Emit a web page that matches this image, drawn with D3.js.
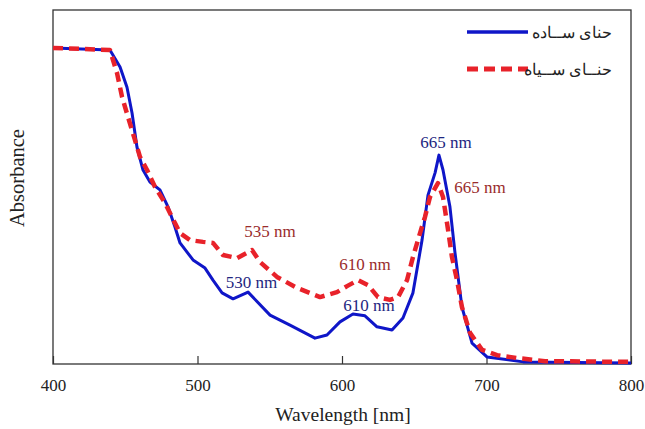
<!DOCTYPE html>
<html>
<head>
<meta charset="utf-8">
<script src="https://cdn.jsdelivr.net/npm/d3@7"></script>
<style>
  body { margin: 0; background: #fff; }
  svg text { font-family: "Liberation Serif", "Times New Roman", serif; }
</style>
</head>
<body>
<svg id="chart" width="645" height="429"></svg>
<script>
// wavelength (nm) and absorbance (arbitrary units)
const plainWave = [400, 439.4, 446.4, 451.2, 454.7, 458.1, 462.3, 467.1, 474, 479.6, 484.4, 487.9, 496.9, 505.2, 510.7, 517, 524.6, 535, 550.2, 564, 581.3, 589.6, 598.6, 607.6, 615.9, 624.2, 634.6, 642.2, 649.1, 655.4, 659.5, 664.4, 667.1, 669.9, 674.7, 678.2, 683, 690, 700.3, 725.3, 800]
const plainAbs = [0.893, 0.887, 0.839, 0.782, 0.709, 0.613, 0.548, 0.514, 0.492, 0.444, 0.387, 0.342, 0.294, 0.271, 0.237, 0.201, 0.184, 0.203, 0.138, 0.110, 0.073, 0.082, 0.119, 0.141, 0.136, 0.105, 0.096, 0.130, 0.201, 0.350, 0.477, 0.540, 0.590, 0.548, 0.444, 0.314, 0.161, 0.059, 0.020, 0.006, 0.003]

const blackWave = [400, 439.4, 444.3, 447.8, 451.9, 456.7, 460.2, 465.1, 470.6, 477.5, 484.4, 487.9, 494.8, 503.8, 510.7, 517.6, 527.3, 537.7, 543.3, 555, 568.9, 584.8, 596.5, 603.5, 611.1, 618, 624.9, 633.2, 638.8, 645, 649.1, 654, 657.4, 660.9, 666.4, 669.9, 673.4, 676.1, 679.6, 683, 688.6, 696.9, 707.3, 721.1, 740.5, 800]
const blackAbs = [0.893, 0.887, 0.822, 0.754, 0.698, 0.633, 0.585, 0.548, 0.500, 0.455, 0.398, 0.370, 0.350, 0.345, 0.342, 0.308, 0.299, 0.322, 0.288, 0.246, 0.215, 0.189, 0.203, 0.220, 0.237, 0.223, 0.189, 0.181, 0.189, 0.237, 0.302, 0.370, 0.415, 0.472, 0.511, 0.472, 0.379, 0.302, 0.237, 0.161, 0.088, 0.040, 0.025, 0.017, 0.008, 0.006]

const xTicks = [400, 500, 600, 700, 800]
const seriesNames = ["حنای ســاده", "حنــای ســیاه"]

// peak labels, placed where they sit in the picture: [wavelength, absorbance, text, series]
const peakLabels = [
  [550.2, 0.359, "535 nm", 1],
  [537.4, 0.215, "530 nm", 0],
  [615.9, 0.266, "610 nm", 1],
  [618.7, 0.150, "610 nm", 0],
  [672, 0.610, "665 nm", 0],
  [695.5, 0.483, "665 nm", 1]
]

const svg = d3.select("#chart")
const plotLeft = 53, plotRight = 631, plotTop = 10, plotBottom = 364

const x = d3.scaleLinear().domain([400, 800]).range([plotLeft, plotRight])
const y = d3.scaleLinear().domain([0, 1]).range([plotBottom, plotTop])

const colors = ["#0f16c8", "#e8222a"]
const labelColors = ["#1e2680", "#9a2c2c"]

// frame
svg.append("rect")
   .attr("x", plotLeft).attr("y", plotTop)
   .attr("width", plotRight - plotLeft).attr("height", plotBottom - plotTop)
   .attr("fill", "none").attr("stroke", "#333").attr("stroke-width", 1.3)

// x axis with inward ticks
const xAxis = svg.append("g")
   .attr("transform", `translate(0,${plotBottom})`)
   .call(d3.axisBottom(x).tickValues(xTicks).tickSize(-8).tickPadding(15).tickFormat(d3.format("d")))
xAxis.select(".domain").remove()
xAxis.selectAll("line").attr("stroke", "#333").attr("stroke-width", 1.2)
xAxis.selectAll("text")
     .attr("font-size", 17).attr("fill", "#222")
     .attr("font-family", "Liberation Serif")

svg.append("text")
   .text("Wavelength [nm]")
   .attr("x", 343).attr("y", 421)
   .attr("text-anchor", "middle")
   .attr("font-size", 19.5).attr("fill", "#222")

svg.append("text")
   .text("Absorbance")
   .attr("transform", "translate(24,178) rotate(-90)")
   .attr("text-anchor", "middle")
   .attr("font-size", 20.5).attr("fill", "#222")

const line = d3.line().x(d => x(d[0])).y(d => y(d[1]))

svg.append("path")
   .attr("d", line(d3.zip(plainWave, plainAbs)))
   .attr("fill", "none").attr("stroke", colors[0])
   .attr("stroke-width", 3).attr("stroke-linejoin", "round")

svg.append("path")
   .attr("d", line(d3.zip(blackWave, blackAbs)))
   .attr("fill", "none").attr("stroke", colors[1])
   .attr("stroke-width", 4.5).attr("stroke-dasharray", "10,6")
   .attr("stroke-linejoin", "round")

// peak annotations
svg.selectAll(".peak")
   .data(peakLabels)
   .enter()
   .append("text")
   .attr("class", "peak")
   .text(d => d[2])
   .attr("x", d => x(d[0]))
   .attr("y", d => y(d[1]))
   .attr("text-anchor", "middle")
   .attr("font-size", 17)
   .attr("fill", d => labelColors[d[3]])

// legend
const legend = svg.append("g")
seriesNames.forEach((name, i) => {
  const ly = 32 + i * 37
  legend.append("line")
        .attr("x1", 467).attr("x2", 528)
        .attr("y1", ly).attr("y2", ly)
        .attr("stroke", colors[i])
        .attr("stroke-width", i ? 5 : 3.5)
        .attr("stroke-dasharray", i ? "11,6" : null)
  legend.append("text")
        .text(name)
        .attr("x", 612).attr("y", ly + 6)
        .attr("text-anchor", "end")
        .attr("font-family", "DejaVu Sans")
        .attr("font-size", 16).attr("fill", "#222")
})
</script>
</body>
</html>
